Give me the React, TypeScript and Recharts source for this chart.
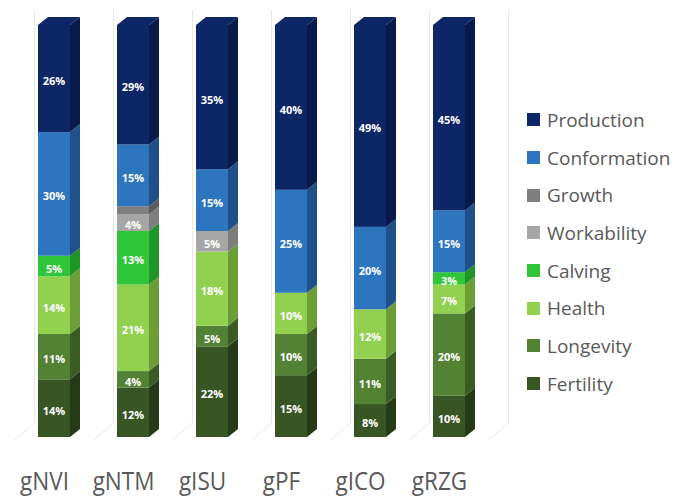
import { BarChart, Bar, XAxis, YAxis, Legend, LabelList } from "recharts";

const categories = ["gNVI", "gNTM", "gISU", "gPF", "gICO", "gRZG"];

// share of each trait group in the index, in percent
const fertility = [14, 12, 22, 15, 8, 10];
const longevity = [11, 4, 5, 10, 11, 20];
const health = [14, 21, 18, 10, 12, 7];
const calving = [5, 13, 0, 0, 0, 3];
const workability = [0, 4, 5, 0, 0, 0];
const growth = [0, 2, 0, 0, 0, 0];
const conformation = [30, 15, 15, 25, 20, 15];
const production = [26, 29, 35, 40, 49, 45];

const traits = [
  { name: "Fertility", values: fertility, front: "#375623", side: "#253b17" },
  { name: "Longevity", values: longevity, front: "#548235", side: "#3a5c24" },
  { name: "Health", values: health, front: "#92d050", side: "#6c9e38" },
  { name: "Calving", values: calving, front: "#2fc63a", side: "#1f9527" },
  { name: "Workability", values: workability, front: "#a6a6a6", side: "#7d7d7d" },
  { name: "Growth", values: growth, front: "#7f7f7f", side: "#5c5c5c" },
  { name: "Conformation", values: conformation, front: "#2e75c0", side: "#1f5089" },
  { name: "Production", values: production, front: "#0c2666", side: "#071a4a" },
];

const data = categories.map((name, i) => {
  const row: Record<string, string | number> = { name };
  traits.forEach((t) => (row[t.name] = t.values[i]));
  return row;
});

const W = 677;
const H = 500;
const margin = { top: 25, right: 189, bottom: 23, left: 14 };
const BAND = (W - margin.left - margin.right) / categories.length;
const DX = 10; // depth of the prisms
const DY = 8;
const GRID = "#e8e8e8";

function Prism(props: any, front: string, side: string, top: boolean) {
  const { x, y, width, height } = props;
  if (!height || height <= 0) return <g />;
  const r = x + width;
  return (
    <g>
      <rect x={x} y={y} width={width} height={height} fill={front} />
      <polygon
        points={`${r},${y} ${r + DX},${y - DY} ${r + DX},${y + height - DY} ${r},${y + height}`}
        fill={side}
      />
      {top && (
        <polygon
          points={`${x},${y} ${x + DX},${y - DY} ${r + DX},${y - DY} ${r},${y}`}
          fill={front}
        />
      )}
    </g>
  );
}

// back wall and floor lines between the categories
function Walls(props: any) {
  const { x, y, width, height, payload } = props;
  const left = x + width / 2 - BAND / 2;
  const bottom = y + height;
  const lines = [left];
  if (payload && payload.name === categories[categories.length - 1]) lines.push(left + BAND);
  return (
    <g>
      {lines.map((lx, i) => (
        <g key={i} stroke={GRID} strokeWidth={1}>
          <line x1={lx + 2 * DX} y1={y - 15} x2={lx + 2 * DX} y2={bottom - 14} />
          <line x1={lx} y1={bottom + 3} x2={lx + 2 * DX} y2={bottom - 14} />
        </g>
      ))}
    </g>
  );
}

function ValueLabel(props: any) {
  const { x, y, width, height, value } = props;
  if (!value || value < 3) return null;
  return (
    <text
      x={x + width / 2}
      y={y + height / 2 + 2}
      textAnchor="middle"
      dominantBaseline="central"
      fill="#ffffff"
      fontSize={11}
      fontWeight={700}
      fontFamily="'Open Sans', sans-serif"
    >
      {value}%
    </text>
  );
}

function CategoryTick(props: any) {
  const { x, y, payload } = props;
  return (
    <g transform={`translate(${x - 9},${y + 45}) scale(0.9,1)`}>
      <text
        textAnchor="middle"
        fill="#595959"
        fontSize={25}
        fontFamily="'Open Sans', sans-serif"
      >
        {payload.value}
      </text>
    </g>
  );
}

function TraitLegend() {
  return (
    <div style={{ fontFamily: "'Open Sans', sans-serif", color: "#595959", fontSize: 19 }}>
      {[...traits].reverse().map((t) => (
        <div key={t.name} style={{ display: "flex", alignItems: "center", height: 37.7 }}>
          <span
            style={{ width: 13, height: 13, background: t.front, marginRight: 7, display: "inline-block" }}
          />
          <span>{t.name}</span>
        </div>
      ))}
    </div>
  );
}

export default function App() {
  return (
    <div style={{ position: "absolute", left: 0, top: 0, width: W, height: H, background: "#ffffff" }}>
      <BarChart width={W} height={H} data={data} margin={margin} barSize={32}>
        <XAxis
          dataKey="name"
          axisLine={false}
          tickLine={false}
          interval={0}
          height={40}
          tick={CategoryTick}
        />
        <YAxis hide domain={[0, 100]} />
        <Legend
          layout="vertical"
          align="center"
          verticalAlign="middle"
          content={TraitLegend}
          wrapperStyle={{ left: 527, top: 101, width: 150 }}
        />
        {traits.map((t, k) => (
          <Bar
            key={t.name}
            dataKey={t.name}
            stackId="share"
            fill={t.front}
            isAnimationActive={false}
            background={k === 0 ? Walls : undefined}
            shape={(p: any) => Prism(p, t.front, t.side, k === traits.length - 1)}
          >
            <LabelList dataKey={t.name} content={ValueLabel} />
          </Bar>
        ))}
      </BarChart>
    </div>
  );
}
